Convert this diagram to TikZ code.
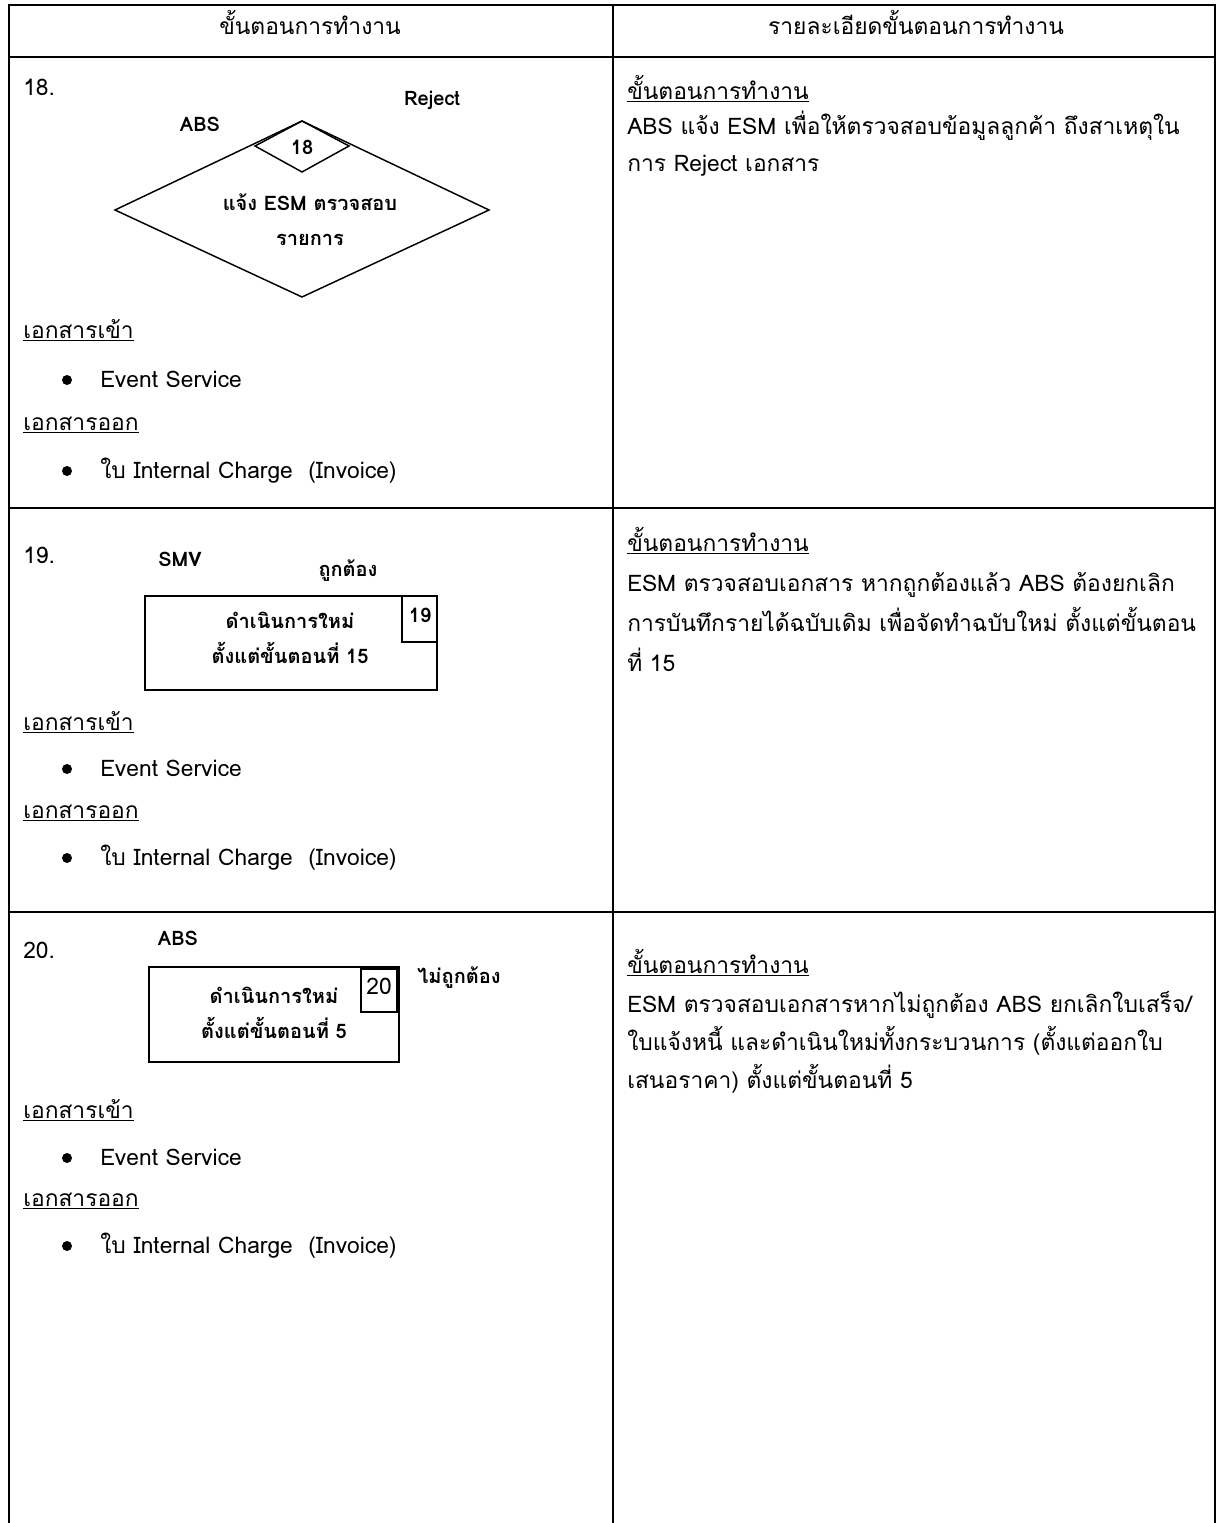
\documentclass[tikz,border=0pt]{standalone}
\usepackage{fontspec}
\setmainfont[Script=Thai]{Loma}
\usetikzlibrary{positioning}

\tikzset{
  linea/.style={line width=1.5pt},
  figura/.style={line width=1.1pt},
  texto/.style={inner sep=0pt, anchor=mid, font=\fontsize{17.1}{20}\selectfont},
  izq/.style={texto, anchor=mid west},
  etiqueta/.style={inner sep=0pt, anchor=mid, font=\bfseries\fontsize{15}{18}\selectfont},
  punto/.style={circle, fill, inner sep=0pt, minimum size=7.5pt},
}

\begin{document}
\begin{tikzpicture}[x=0.75pt,y=-0.75pt]
        \useasboundingbox (0,0) rectangle (1218,1523);

        % Paso 1: Dibuja las lineas de la tabla
        \draw[linea] (9,1523) -- (9,5) -- (1215,5) -- (1215,1523);
        \draw[linea] (613,5) -- (613,1523);
        \draw[linea] (9,57) -- (1215,57);
        \draw[linea] (9,508) -- (1215,508);
        \draw[linea] (9,912) -- (1215,912);

        % Paso 2: Escribe los encabezados
        \node[texto] (E1) at (310,31) {ขั้นตอนการทำงาน};
        \node[texto] (E2) at (916,31) {รายละเอียดขั้นตอนการทำงาน};

        % Paso 3: Paso 18, rombo de decision
        \node[izq] (N18) at (23,92) {18.};
        \node[etiqueta] (Rej) at (432,102) {Reject};
        \node[etiqueta] (Abs18) at (200,128) {ABS};
        \coordinate (A) at (302,121);
        \coordinate (B) at (489,210);
        \coordinate (C) at (302,297);
        \coordinate (D) at (115,210);
        \draw[figura] (A) -- (B) -- (C) -- (D) -- cycle;
        \coordinate (F) at (349,146);
        \coordinate (G) at (302,172);
        \coordinate (H) at (255,146);
        \draw[figura] (A) -- (F) -- (G) -- (H) -- cycle;
        \node[etiqueta] (K18) at (302,151) {18};
        \node[etiqueta] (T18a) at (310,207) {แจ้ง ESM ตรวจสอบ};
        \node[etiqueta] (T18b) at (310,242) {รายการ};

        % Paso 4: Paso 18, documentos
        \node[izq] (In18) at (23,335) {\underline{เอกสารเข้า}};
        \node[punto] (P1) at (67,380) {};
        \node[izq] (Ev18) at (100,384) {Event Service};
        \node[izq] (Out18) at (23,427) {\underline{เอกสารออก}};
        \node[punto] (P2) at (67,471) {};
        \node[izq] (Inv18) at (100,475) {ใบ Internal Charge~ (Invoice)};

        % Paso 5: Paso 18, descripcion
        \node[izq] (S18) at (627,96) {\underline{ขั้นตอนการทำงาน}};
        \node[izq] (D18a) at (627,131) {ABS แจ้ง ESM เพื่อให้ตรวจสอบข้อมูลลูกค้า ถึงสาเหตุใน};
        \node[izq] (D18b) at (627,168) {การ Reject เอกสาร};

        % Paso 6: Paso 19, caja de proceso
        \node[izq] (N19) at (23,560) {19.};
        \node[etiqueta] (Smv) at (180,563) {SMV};
        \node[etiqueta] (Ok19) at (348,573) {ถูกต้อง};
        \draw[figura] (145,596) rectangle (437,690);
        \draw[figura] (402,596) rectangle (437,642);
        \node[etiqueta] (K19) at (420,619) {19};
        \node[etiqueta] (T19a) at (290,625) {ดำเนินการใหม่};
        \node[etiqueta] (T19b) at (290,660) {ตั้งแต่ขั้นตอนที่ 15};

        % Paso 7: Paso 19, documentos
        \node[izq] (In19) at (23,727) {\underline{เอกสารเข้า}};
        \node[punto] (P3) at (67,769) {};
        \node[izq] (Ev19) at (100,773) {Event Service};
        \node[izq] (Out19) at (23,815) {\underline{เอกสารออก}};
        \node[punto] (P4) at (67,858) {};
        \node[izq] (Inv19) at (100,862) {ใบ Internal Charge~ (Invoice)};

        % Paso 8: Paso 19, descripcion
        \node[izq] (S19) at (627,548) {\underline{ขั้นตอนการทำงาน}};
        \node[izq] (D19a) at (627,588) {ESM ตรวจสอบเอกสาร หากถูกต้องแล้ว ABS ต้องยกเลิก};
        \node[izq] (D19b) at (627,628) {การบันทึกรายได้ฉบับเดิม เพื่อจัดทำฉบับใหม่ ตั้งแต่ขั้นตอน};
        \node[izq] (D19c) at (627,668) {ที่ 15};

        % Paso 9: Paso 20, caja de proceso
        \node[izq] (N20) at (23,955) {20.};
        \node[etiqueta] (Abs20) at (178,942) {ABS};
        \node[etiqueta] (No20) at (459,980) {ไม่ถูกต้อง};
        \draw[figura] (149,967) rectangle (399,1062);
        \draw[figura] (361,969) rectangle (397,1012);
        \node[texto] (K20) at (379,991) {20};
        \node[etiqueta] (T20a) at (274,1000) {ดำเนินการใหม่};
        \node[etiqueta] (T20b) at (274,1035) {ตั้งแต่ขั้นตอนที่ 5};

        % Paso 10: Paso 20, documentos
        \node[izq] (In20) at (23,1115) {\underline{เอกสารเข้า}};
        \node[punto] (P5) at (67,1158) {};
        \node[izq] (Ev20) at (100,1162) {Event Service};
        \node[izq] (Out20) at (23,1203) {\underline{เอกสารออก}};
        \node[punto] (P6) at (67,1246) {};
        \node[izq] (Inv20) at (100,1250) {ใบ Internal Charge~ (Invoice)};

        % Paso 11: Paso 20, descripcion
        \node[izq] (S20) at (627,970) {\underline{ขั้นตอนการทำงาน}};
        \node[izq] (D20a) at (627,1009) {ESM ตรวจสอบเอกสารหากไม่ถูกต้อง ABS ยกเลิกใบเสร็จ/};
        \node[izq] (D20b) at (627,1047) {ใบแจ้งหนี้ และดำเนินใหม่ทั้งกระบวนการ (ตั้งแต่ออกใบ};
        \node[izq] (D20c) at (627,1085) {เสนอราคา) ตั้งแต่ขั้นตอนที่ 5};
    \end{tikzpicture}
\end{document}
